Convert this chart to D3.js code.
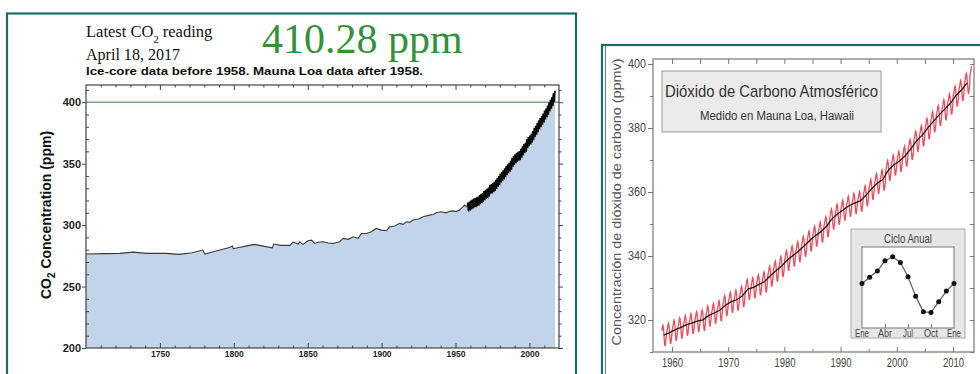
<!DOCTYPE html>
<html><head><meta charset="utf-8">
<script src="https://cdn.jsdelivr.net/npm/d3@7"></script>
<style>body{margin:0;background:#fff} svg{display:block}</style>
</head><body>
<svg id="c" width="980" height="374"></svg>
<script>
// ---------- DATA ----------
const iceYears = [1700,1712,1723,1732,1741,1754,1763,1772,1779,1780.5,1786,1797,1799,1799.6,1808,1814,1820,1826,1827,1832,1838,1840,1843.5,1844.6,1846.8,1850.2,1852.5,1854.7,1857,1860.4,1864,1867.1,1871.6,1873.9,1877.3,1880.7,1884.1,1886.3,1889.7,1893,1896.4,1899.8,1903.2,1905.4,1908.8,1912.2,1914.5,1916.7,1919,1921.2,1925,1928,1932.4,1935,1937,1940.3,1943.7,1946,1948.2,1950.5,1952.7,1955,1956.1,1957.5];
const iceValues = [276.5,276.8,277.0,278.0,277.0,277.0,276.2,277.5,279.7,276.5,278.3,281.8,282.9,280.8,282.9,284.3,282.9,281.5,284.6,283.5,283.5,286.2,284.6,286.4,284.3,287.3,287.8,285.1,286.0,286.4,285.4,285.1,286.4,289.2,288.4,290.5,289.2,293.2,293.2,294.6,297.3,295.9,295.4,298.6,299.2,301.4,300.6,302.7,302.2,304.1,305.0,306.8,308.1,308.6,310.0,310.8,310.0,311.2,311.6,311.0,312.2,314.9,316.3,315.0];
const mloYears = d3.range(1958, 2018);
const mloAnnual = [315.3,315.97,316.91,317.64,318.45,318.99,319.62,320.04,321.37,322.18,
  323.05,324.62,325.68,326.32,327.46,329.68,330.19,331.12,332.03,333.84,
  335.41,336.84,338.76,340.12,341.48,343.15,344.85,346.35,347.61,349.31,
  351.69,353.20,354.45,355.70,356.54,357.21,358.96,360.97,362.74,363.88,
  366.84,368.54,369.71,371.32,373.45,375.98,377.70,379.98,382.09,384.02,
  385.83,387.64,390.10,391.85,394.06,396.74,398.87,401.01,404.41,406.76];
const cycleLabels = ["Ene","Feb","Mar","Abr","May","Jun","Jul","Ago","Sep","Oct","Nov","Dic","Ene"];
const cycleValues = [0.0,0.69,1.39,2.55,3.0,2.37,0.75,-1.42,-3.18,-3.25,-2.06,-0.85,0.0];
const cycleTickLabels = ["Ene","Abr","Jul","Oct","Ene"];
const leftYTicks = [200,250,300,350,400];
const leftXTicks = [1750,1800,1850,1900,1950,2000];
const rightYTicks = [320,340,360,380,400];
const rightXTicks = [1960,1970,1980,1990,2000,2010];
const latestReading = "410.28 ppm";
const latestDate = "April 18, 2017";
const refLevel = 400;

// monthly series = annual mean + seasonal anomaly (from the two arrays above)
function monthly(endYear, endMonth){
  const out = [];
  mloYears.forEach((y,i)=>{
    if (y > endYear) return;
    for (let m = 0; m < 12; m++){
      if (y === 1958 && m < 2) continue;
      if (y === endYear && m > endMonth) break;
      out.push({x: y + (m + 0.5)/12, v: mloAnnual[i] + cycleValues[m]});
    }
  });
  return out;
}
const ice = iceYears.map((y,i)=>({x:y, v:iceValues[i]}));
const mloLeft = monthly(2017, 3);
const mloRight = monthly(2013, 3);

const svg = d3.select("#c");
const TEAL = "#1e6a66";
const fmtYear = d3.format("d");

// ---------- LEFT PANEL ----------
svg.append("rect").attr("x",7).attr("y",13.5).attr("width",569).attr("height",400)
  .attr("fill","none").attr("stroke",TEAL).attr("stroke-width",2.2);

const xL = d3.scaleLinear().domain([1700,2020]).range([86,559]);
const yL = d3.scaleLinear().domain([200,414]).range([348,85]);
const L = svg.append("g");

const allLeft = ice.concat(mloLeft);
L.append("path").datum(allLeft)
  .attr("d", d3.area().x(d=>xL(d.x)).y0(yL(200)).y1(d=>yL(d.v)))
  .attr("fill","#c2d4ea");
L.append("line").attr("x1",xL(1700)).attr("x2",xL(2020))
  .attr("y1",yL(refLevel)).attr("y2",yL(refLevel))
  .attr("stroke","#7aa97a").attr("stroke-width",1.6);
L.append("path").datum(ice.concat([mloLeft[0]]))
  .attr("d", d3.line().x(d=>xL(d.x)).y(d=>yL(d.v)))
  .attr("fill","none").attr("stroke","#3a3a3a").attr("stroke-width",1.1);
L.append("path").datum(mloLeft)
  .attr("d", d3.line().x(d=>xL(d.x)).y(d=>yL(d.v)))
  .attr("fill","none").attr("stroke","#0a0a0a").attr("stroke-width",1.8);
L.append("rect").attr("x",86).attr("y",85).attr("width",473).attr("height",263)
  .attr("fill","none").attr("stroke","#444").attr("stroke-width",1.2);

const minorY = d3.range(210,414,10).filter(v=>!leftYTicks.includes(v));
const minorX = d3.range(1710,2020,10).filter(v=>!leftXTicks.includes(v));
function clean(g){ g.select(".domain").remove(); g.selectAll("line").attr("stroke","#444"); }

L.append("g").attr("transform","translate(86,0)")
  .call(d3.axisLeft(yL).tickValues(leftYTicks).tickSize(4).tickPadding(1))
  .call(clean).call(g=>g.selectAll("text").attr("font-family","Liberation Sans, Arial")
     .attr("font-weight","bold").attr("font-size",11).attr("fill","#222"));
L.append("g").attr("transform","translate(86,0)")
  .call(d3.axisLeft(yL).tickValues(minorY).tickSize(-3).tickFormat(""))
  .call(clean);
L.append("g").attr("transform","translate(559,0)")
  .call(d3.axisRight(yL).tickValues(leftYTicks).tickSize(4).tickFormat(""))
  .call(clean);
L.append("g").attr("transform","translate(559,0)")
  .call(d3.axisRight(yL).tickValues(minorY).tickSize(2.5).tickFormat(""))
  .call(clean);
L.append("g").attr("transform","translate(0,348)")
  .call(d3.axisBottom(xL).tickValues(leftXTicks).tickSize(-5).tickPadding(3).tickFormat(fmtYear))
  .call(clean).call(g=>g.selectAll("text").attr("font-family","Liberation Sans, Arial")
     .attr("font-weight","bold").attr("font-size",8.5).attr("fill","#222"));
L.append("g").attr("transform","translate(0,348)")
  .call(d3.axisBottom(xL).tickValues(minorX).tickSize(-2.5).tickFormat(""))
  .call(clean);
L.append("g").attr("transform","translate(0,85)")
  .call(d3.axisTop(xL).tickValues(leftXTicks).tickSize(-5).tickFormat(""))
  .call(clean);
L.append("g").attr("transform","translate(0,85)")
  .call(d3.axisTop(xL).tickValues(minorX).tickSize(-2.5).tickFormat(""))
  .call(clean);

// y label
const yl = L.append("text").attr("transform","translate(51,215) rotate(-90)")
  .attr("text-anchor","middle").attr("font-family","Liberation Sans, Arial")
  .attr("font-weight","bold").attr("font-size",14).attr("fill","#111");
yl.append("tspan").text("CO");
yl.append("tspan").text("2").attr("font-size",10).attr("dy",4);
yl.append("tspan").text(" Concentration (ppm)").attr("dy",-4);

// header texts
const h1 = L.append("text").attr("x",86).attr("y",37)
  .attr("font-family","Liberation Serif, Times New Roman").attr("font-size",16.5).attr("fill","#111");
h1.append("tspan").text("Latest CO");
h1.append("tspan").text("2").attr("font-size",10.5).attr("dy",6);
h1.append("tspan").text(" reading").attr("dy",-6);
L.append("text").attr("x",86).attr("y",60).text(latestDate)
  .attr("font-family","Liberation Serif, Times New Roman").attr("font-size",16)
  .attr("textLength",94).attr("lengthAdjust","spacingAndGlyphs").attr("fill","#111");
L.append("text").attr("x",262).attr("y",53).text(latestReading)
  .attr("font-family","Liberation Serif, Times New Roman").attr("font-size",42).attr("fill","#33913a");
L.append("text").attr("x",86).attr("y",75).text("Ice-core data before 1958. Mauna Loa data after 1958.")
  .attr("font-family","Liberation Sans, Arial").attr("font-weight","bold").attr("font-size",11.5)
  .attr("textLength",337).attr("lengthAdjust","spacingAndGlyphs").attr("fill","#111");

// ---------- RIGHT PANEL ----------
svg.append("rect").attr("x",602).attr("y",45).attr("width",400).attr("height",400)
  .attr("fill","none").attr("stroke",TEAL).attr("stroke-width",2.2);
svg.append("line").attr("x1",605.5).attr("x2",605.5).attr("y1",46).attr("y2",374)
  .attr("stroke","#4f8c88").attr("stroke-width",1);

const SANS = "Liberation Sans, Arial";
const xR = d3.scaleLinear().domain([1956.62,2013.74]).range([653,974]);
const yR = d3.scaleLinear().domain([310,401.56]).range([352,59]);
const R = svg.append("g");

R.append("path").datum(mloRight)
  .attr("d", d3.line().x(d=>xR(d.x)).y(d=>yR(d.v)))
  .attr("fill","none").attr("stroke","#e8394a").attr("stroke-width",1.3).attr("stroke-opacity",0.9);
const trend = mloYears.map((y,i)=>({x:y+0.5, v:mloAnnual[i]})).filter(d=>d.x<2013);
R.append("path").datum(trend)
  .attr("d", d3.line().x(d=>xR(d.x)).y(d=>yR(d.v)))
  .attr("fill","none").attr("stroke","#1a1a1a").attr("stroke-width",1.3);

function cleanR(g){ g.select(".domain").remove(); g.selectAll("line").attr("stroke","#777"); }
const minorRY = d3.range(310,402,10).filter(v=>!rightYTicks.includes(v));
const minorRX = d3.range(1960,2014,5).filter(v=>!rightXTicks.includes(v));
R.append("g").attr("transform","translate(653,0)")
  .call(d3.axisLeft(yR).tickValues(rightYTicks).tickSize(5).tickPadding(2))
  .call(cleanR).call(g=>g.selectAll("text").attr("font-family",SANS)
     .attr("font-size",12.5).attr("fill","#444")
     .attr("textLength",18).attr("lengthAdjust","spacingAndGlyphs"));
R.append("g").attr("transform","translate(653,0)")
  .call(d3.axisLeft(yR).tickValues(minorRY).tickSize(3).tickFormat("")).call(cleanR);
R.append("g").attr("transform","translate(974,0)")
  .call(d3.axisRight(yR).tickValues(d3.range(310,402,10)).tickSize(-4).tickFormat("")).call(cleanR);
R.append("g").attr("transform","translate(0,352)")
  .call(d3.axisBottom(xR).tickValues(rightXTicks).tickSize(-5).tickPadding(6).tickFormat(fmtYear))
  .call(cleanR).call(g=>g.selectAll("text").attr("font-family",SANS)
     .attr("font-size",12.5).attr("fill","#444")
     .attr("textLength",21).attr("lengthAdjust","spacingAndGlyphs"));
R.append("g").attr("transform","translate(0,352)")
  .call(d3.axisBottom(xR).tickValues(minorRX).tickSize(-3).tickFormat("")).call(cleanR);
R.append("g").attr("transform","translate(0,59)")
  .call(d3.axisTop(xR).tickValues(d3.range(1960,2014,5)).tickSize(-5).tickFormat("")).call(cleanR);
R.append("rect").attr("x",653).attr("y",59).attr("width",321).attr("height",293)
  .attr("fill","none").attr("stroke","#777").attr("stroke-width",1.2);

R.append("text").attr("transform","translate(621,202) rotate(-90)").attr("text-anchor","middle")
  .text("Concentración de dióxido de carbono (ppmv)")
  .attr("font-family",SANS).attr("font-size",12).attr("fill","#555")
  .attr("textLength",287).attr("lengthAdjust","spacingAndGlyphs");

// title box
R.append("rect").attr("x",662).attr("y",71).attr("width",219).attr("height",61)
  .attr("fill","#ebebeb").attr("stroke","#999").attr("stroke-width",1);
R.append("text").attr("x",665).attr("y",97).text("Dióxido de Carbono Atmosférico")
  .attr("font-family",SANS).attr("font-size",17).attr("fill","#333")
  .attr("textLength",213).attr("lengthAdjust","spacingAndGlyphs");
R.append("text").attr("x",700).attr("y",120).text("Medido en Mauna Loa, Hawaii")
  .attr("font-family",SANS).attr("font-size",12).attr("fill","#333")
  .attr("textLength",154).attr("lengthAdjust","spacingAndGlyphs");

// inset
R.append("rect").attr("x",851).attr("y",229).attr("width",114).attr("height",109)
  .attr("fill","#e6e6e6").attr("stroke","#aaa").attr("stroke-width",1);
R.append("rect").attr("x",862).attr("y",247).attr("width",92).attr("height",81)
  .attr("fill","#fff").attr("stroke","#777").attr("stroke-width",1);
const xI = d3.scaleLinear().domain([0,12]).range([862,954]);
const yI = d3.scaleLinear().domain([-5,4.1]).range([328,247]);
R.append("text").attr("x",908).attr("y",243).attr("text-anchor","middle").text("Ciclo Anual")
  .attr("font-family",SANS).attr("font-size",12.5).attr("fill","#444")
  .attr("textLength",48).attr("lengthAdjust","spacingAndGlyphs");
R.append("g").attr("transform","translate(0,328)")
  .call(d3.axisBottom(xI).tickValues([3,6,9]).tickSize(-4).tickFormat("")).call(cleanR);
R.selectAll(".ilab").data(cycleTickLabels).join("text")
  .attr("x",(d,i)=>xI(i*3)).attr("y",337).attr("text-anchor","middle").text(d=>d)
  .attr("font-family",SANS).attr("font-size",11.5).attr("fill","#444")
  .attr("textLength",(d)=>d==="Jul"?10:14).attr("lengthAdjust","spacingAndGlyphs");
const cyc = cycleValues.map((v,i)=>({m:i, v}));
R.append("path").datum(cyc)
  .attr("d", d3.line().x(d=>xI(d.m)).y(d=>yI(d.v)))
  .attr("fill","none").attr("stroke","#666").attr("stroke-width",1.3);
R.selectAll(".dot").data(cyc).join("circle")
  .attr("cx",d=>xI(d.m)).attr("cy",d=>yI(d.v)).attr("r",2.5).attr("fill","#111");
</script>
</body></html>
